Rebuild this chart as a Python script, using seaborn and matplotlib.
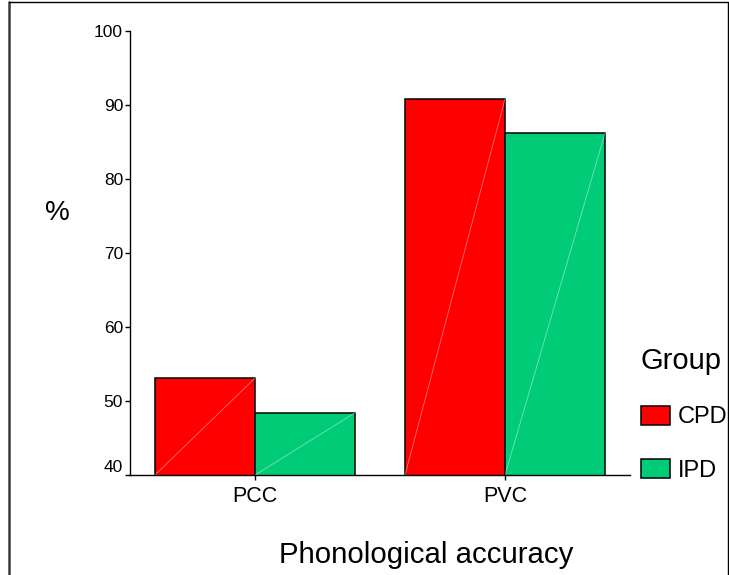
import matplotlib
matplotlib.use("Agg")
import matplotlib.pyplot as plt
import matplotlib.transforms as mtransforms
from matplotlib.lines import Line2D
import seaborn as sns
import pandas as pd

# values
measures = ["PCC", "PVC"]
groups = ["CPD", "IPD"]
cpd_values = [53.1, 90.8]
ipd_values = [48.4, 86.2]
y_ticks = [40, 50, 60, 70, 80, 90, 100]
colors = ["#ff0000", "#00cc78"]

df = pd.DataFrame({
    "measure": measures * 2,
    "Group": [groups[0]] * 2 + [groups[1]] * 2,
    "value": cpd_values + ipd_values,
})

sns.set_theme(style="ticks")
plt.rcParams["font.family"] = ["Liberation Sans", "DejaVu Sans"]
plt.rcParams.update({"text.color": "black", "axes.labelcolor": "black",
                     "xtick.color": "black", "ytick.color": "black"})

fig = plt.figure(figsize=(7.29, 5.75), dpi=100)
ax = fig.add_axes([130 / 729, 1 - 475 / 575, 500 / 729, 444 / 575])

sns.barplot(data=df, x="measure", y="value", hue="Group", order=measures,
            hue_order=groups, palette=colors, width=0.8, saturation=1,
            edgecolor="black", linewidth=1.1, errorbar=None, ax=ax)

ax.set_xlim(-0.5, 1.5)
ax.set_ylim(y_ticks[0], y_ticks[-1])
ax.set_yticks(y_ticks)
sns.despine(ax=ax)
for side in ["left", "bottom"]:
    ax.spines[side].set_color("black")
    ax.spines[side].set_linewidth(1.0)

ax.tick_params(axis="y", labelsize=12.5, length=3.5, width=1, color="black", pad=1.5)
ax.tick_params(axis="x", labelsize=15.5, length=3.8, width=1, color="black", pad=4)

# lowest y label sits a bit above its tick
lab = ax.get_yticklabels()[0]
lab.set_transform(lab.get_transform() + mtransforms.ScaledTranslation(0, 0.09, fig.dpi_scale_trans))

# faint diagonal streak across each bar
y0 = ax.get_ylim()[0]
for bar in ax.patches:
    h = bar.get_height()
    if h <= 0:
        continue
    x0 = bar.get_x()
    x1 = x0 + bar.get_width()
    ax.plot([x0, x1], [y0, h], color="white", lw=0.6, alpha=0.45, zorder=bar.get_zorder() + 0.1)

ax.set_xlabel("Phonological accuracy", fontsize=21.2)
ax.xaxis.set_label_coords(0.592, -0.198)
ax.xaxis.label.set_va("baseline")
ax.set_ylabel("%", fontsize=20, rotation=0, ha="center", va="center")
ax.yaxis.set_label_coords(-0.145, 0.59)

handles, labels = ax.get_legend_handles_labels()
leg = ax.legend(handles, labels, title="Group", loc="upper left",
                bbox_to_anchor=(641 / 729, 1 - 347 / 575),
                bbox_transform=fig.transFigure, frameon=False,
                fontsize=17, title_fontsize=21, alignment="left",
                handlelength=1.22, handleheight=0.88, handletextpad=0.35,
                labelspacing=1.3, borderpad=0, borderaxespad=0)
for h in leg.legend_handles:
    h.set_edgecolor("black")
    h.set_linewidth(1.1)

# border around the figure
fig.add_artist(Line2D([9 / 729, 9 / 729], [0, 1 - 2 / 575], transform=fig.transFigure,
                      color="#3a3a3a", lw=1.8))
fig.add_artist(Line2D([9 / 729, 727.5 / 729], [1 - 2 / 575, 1 - 2 / 575],
                      transform=fig.transFigure, color="black", lw=1.0))
fig.add_artist(Line2D([727.5 / 729, 727.5 / 729], [0, 1 - 2 / 575],
                      transform=fig.transFigure, color="black", lw=1.0))

fig.savefig("out.png", dpi=100)
